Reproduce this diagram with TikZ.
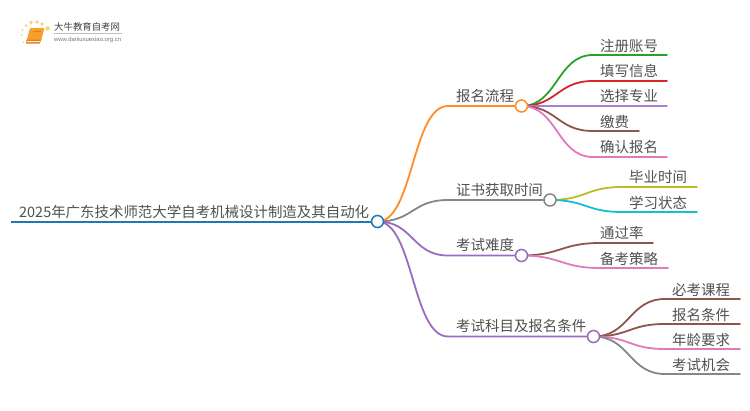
\documentclass[tikz,border=0pt]{standalone}
\usepackage{fontspec}
\setmainfont{Noto Sans CJK SC}[Scale=1]
\newfontfamily\lat{Liberation Sans}
\pgfdeclarelayer{bg}
\pgfsetlayers{bg,main}
\definecolor{cMain}{HTML}{1F77B4}
\definecolor{cOrange}{HTML}{FF8C24}
\definecolor{cGrey}{HTML}{868686}
\definecolor{cPurple}{HTML}{9A6BBE}
\definecolor{cGreen}{HTML}{2CA02C}
\definecolor{cRed}{HTML}{D62728}
\definecolor{cLilac}{HTML}{AB7FD0}
\definecolor{cBrown}{HTML}{8C564B}
\definecolor{cPink}{HTML}{E377C2}
\definecolor{cOlive}{HTML}{BCBD22}
\definecolor{cCyan}{HTML}{17BECF}
\definecolor{cText}{HTML}{505050}
\definecolor{cBook}{HTML}{F5A02A}
\definecolor{cBookD}{HTML}{E07F1E}
\definecolor{cDot}{HTML}{FBD27A}
\tikzset{
  hub/.style={circle,draw=#1,fill=white,line width=1.5pt,minimum size=12pt,inner sep=0pt},
  txt/.style={text=cText,font=\fontsize{14.45}{16}\selectfont,inner sep=0pt,anchor=base west},
  link/.style={draw=#1,line width=1.8pt,line cap=round},
}
\begin{document}
\begin{tikzpicture}[x=1pt,y=-1pt]
\useasboundingbox (0,0) rectangle (750,410);
% hubs
\node[hub=cMain]   (main) at (377.5,221.5) {};
\node[hub=cOrange] (h1)   at (521.5,106) {};
\node[hub=cGrey]   (h2)   at (550,200) {};
\node[hub=cPurple] (h3)   at (521.5,255.5) {};
\node[hub=cPurple] (h4)   at (593.5,336.5) {};
% free ends
\coordinate (ms) at (11,221.5);
\foreach \n/\x/\y in {
 b1/448/106, b2/448/200, b3/448/255.5, b4/448/336.5,
 a1/593/55, a2/593/81, a3/593/106, a4/593/131, a5/593/157,
 e1/667/55, e2/667/81, e3/667/106, e4/639/131, e5/667/157,
 c1/622/187, c2/622/212, f1/697/187, f2/697/212,
 d1/600/243, d2/600/268, g1/653/243, g2/668/268,
 m1/665/299, m2/665/324, m3/665/349, m4/665/374,
 n1/740/299, n2/740/324, n3/740/349, n4/740/374}
 {\coordinate (\n) at (\x,\y);}
% texts
\node[txt] (tmain) at (19,217) {2025年广东技术师范大学自考机械设计制造及其自动化};
\node[txt] (t1) at (456,101.5) {报名流程};
\node[txt] (t2) at (456,195.5) {证书获取时间};
\node[txt] (t3) at (456,250.5) {考试难度};
\node[txt] (t4) at (456,331.5) {考试科目及报名条件};
\node[txt] (t11) at (600,51.5) {注册账号};
\node[txt] (t12) at (600,76.5) {填写信息};
\node[txt] (t13) at (600,101.5) {选择专业};
\node[txt] (t14) at (600,127.5) {缴费};
\node[txt] (t15) at (600,152.5) {确认报名};
\node[txt] (t21) at (629,182.5) {毕业时间};
\node[txt] (t22) at (629,208.5) {学习状态};
\node[txt] (t31) at (600,238.5) {通过率};
\node[txt] (t32) at (600,264.5) {备考策略};
\node[txt] (t41) at (672,295.5) {必考课程};
\node[txt] (t42) at (672,320.5) {报名条件};
\node[txt] (t43) at (672,345.5) {年龄要求};
\node[txt] (t44) at (672,370.5) {考试机会};
% connectors
\begin{pgfonlayer}{bg}
\draw[draw=cMain,line width=2pt] (ms) -- (main.center);
\draw[link=cOrange] (main.center) .. controls +(36,0) and +(-36,0) .. (b1) -- (h1);
\draw[link=cGrey] (main.center) .. controls +(36,0) and +(-36,0) .. (b2) -- (h2);
\draw[link=cPurple] (main.center) .. controls +(36,0) and +(-36,0) .. (b3) -- (h3);
\draw[link=cPurple] (main.center) .. controls +(36,0) and +(-36,0) .. (b4) -- (h4);
\draw[link=cGreen] (h1.center) .. controls +(36,0) and +(-36,0) .. (a1) -- (e1);
\draw[link=cRed] (h1.center) .. controls +(36,0) and +(-36,0) .. (a2) -- (e2);
\draw[link=cLilac] (h1.center) -- (e3);
\draw[link=cBrown] (h1.center) .. controls +(36,0) and +(-36,0) .. (a4) -- (e4);
\draw[link=cPink] (h1.center) .. controls +(36,0) and +(-36,0) .. (a5) -- (e5);
\draw[link=cOlive] (h2.center) .. controls +(36,0) and +(-36,0) .. (c1) -- (f1);
\draw[link=cCyan] (h2.center) .. controls +(36,0) and +(-36,0) .. (c2) -- (f2);
\draw[link=cBrown] (h3.center) .. controls +(39,0) and +(-39,0) .. (d1) -- (g1);
\draw[link=cPink] (h3.center) .. controls +(39,0) and +(-39,0) .. (d2) -- (g2);
\draw[link=cBrown] (h4.center) .. controls +(36,0) and +(-36,0) .. (m1) -- (n1);
\draw[link=cBrown] (h4.center) .. controls +(36,0) and +(-36,0) .. (m2) -- (n2);
\draw[link=cPink] (h4.center) .. controls +(36,0) and +(-36,0) .. (m3) -- (n3);
\draw[link=cGrey] (h4.center) .. controls +(36,0) and +(-36,0) .. (m4) -- (n4);
\end{pgfonlayer}
% logo
\fill[cBook,rounded corners=1pt] (30,28) -- (44.5,28) -- (41,41) -- (26.5,41) -- cycle;
\fill[cBookD,rounded corners=0.5pt] (26.5,39.5) -- (41,39.5) -- (40,43.5) -- (26,43.5) -- cycle;
\fill[white,opacity=.85] (26.8,41) -- (40.4,41) -- (40.1,42) -- (26.6,42) -- cycle;
\draw[cBookD,line width=0.5pt] (33,31) -- (41,31);
\foreach \x/\y/\r in {47.5/28.5/2.3, 42/24/1.9, 37/22/1.9, 31/22.5/1.8, 26/25.5/1.5, 22.5/30/1.2, 21.5/35/1, 23.5/42/0.8}
  \fill[cDot] (\x,\y) circle (\r);
\node[inner sep=0pt,anchor=base west,text=black!75,font=\fontsize{9.4}{10}\selectfont] (lg1) at (54,30.5) {大牛教育自考网};
\draw[black!25,line width=0.5pt] (54,33.5) -- (122,33.5);
\node[inner sep=0pt,anchor=base west,text=black!55,font=\lat\fontsize{5.9}{6}\selectfont] (lg2) at (54,41) {www.daniuxuexiao.org.cn};
\end{tikzpicture}
\end{document}
